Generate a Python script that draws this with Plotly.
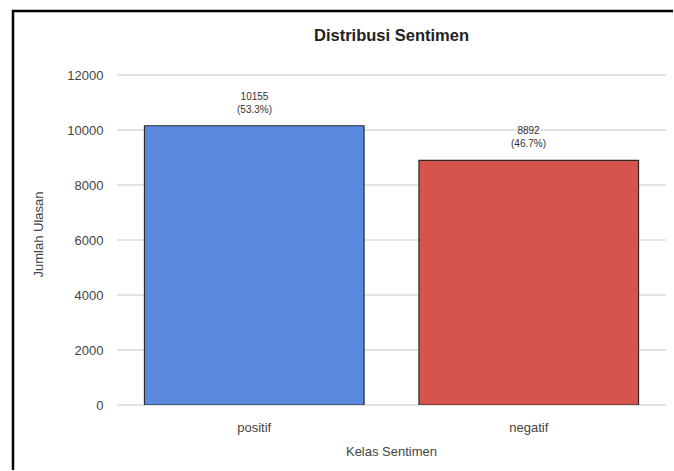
import plotly.graph_objects as go

categories = ["positif", "negatif"]
counts = [10155, 8892]
percents = [53.3, 46.7]
colors = ["#5a8ade", "#d5554c"]
ytick_vals = [0, 2000, 4000, 6000, 8000, 10000, 12000]

labels = [f"{c}<br>({p}%)" for c, p in zip(counts, percents)]

W, H = 674, 471
ml, mr, mt, mb = 117, 8, 64, 66
pw, ph = W - ml - mr, H - mt - mb

fig = go.Figure()
fig.add_trace(go.Bar(
    x=categories, y=counts,
    marker=dict(color=colors, line=dict(color="#2a2a2a", width=1.2)),
    width=0.8,
))
for c, v, t in zip(categories, counts, labels):
    fig.add_annotation(x=c, y=v, text=t, showarrow=False, yanchor="bottom", yshift=9,
                       font=dict(size=10, color="#333", family="Liberation Sans, Arial"))

fig.update_layout(
    width=W, height=H,
    margin=dict(l=ml, r=mr, t=mt, b=mb),
    paper_bgcolor="white", plot_bgcolor="white",
    font=dict(family="Liberation Sans, Arial", color="#444"),
    title=dict(text="<b>Distribusi Sentimen</b>", x=(ml + pw / 2) / W, xanchor="center",
               y=1 - 35 / H, yanchor="middle", font=dict(size=16.5, color="#222")),
    showlegend=False,
)
fig.update_xaxes(title=dict(text="Kelas Sentimen", font=dict(size=13, color="#444"), standoff=13),
                 tickfont=dict(size=13, color="#444"), showgrid=False, showline=False,
                 ticks="outside", ticklen=10, tickcolor="rgba(0,0,0,0)",
                 range=[-0.5, 1.5])
fig.update_yaxes(title=dict(text="Jumlah Ulasan", font=dict(size=13, color="#444"), standoff=20),
                 tickfont=dict(size=13, color="#444"), range=[0, 12400],
                 tickvals=ytick_vals, ticktext=[str(v) for v in ytick_vals],
                 showgrid=True, gridcolor="#e4e4e4", gridwidth=1.5, zeroline=True,
                 zerolinecolor="#e4e4e4", zerolinewidth=1.5,
                 ticks="outside", ticklen=10, tickcolor="rgba(0,0,0,0)")

# outer frame: only left and top edges visible in the crop (open path)
def px_x(p):
    return (p - ml) / pw

def px_y(p):
    return ((H - mb) - p) / ph

path = (f"M {px_x(13):.5f},{px_y(470):.5f} "
        f"L {px_x(13):.5f},{px_y(11):.5f} "
        f"L {px_x(673):.5f},{px_y(11):.5f}")
fig.add_shape(type="path", xref="paper", yref="paper", path=path,
              line=dict(color="black", width=2.5), fillcolor="rgba(0,0,0,0)")

fig.write_html("out.html")
